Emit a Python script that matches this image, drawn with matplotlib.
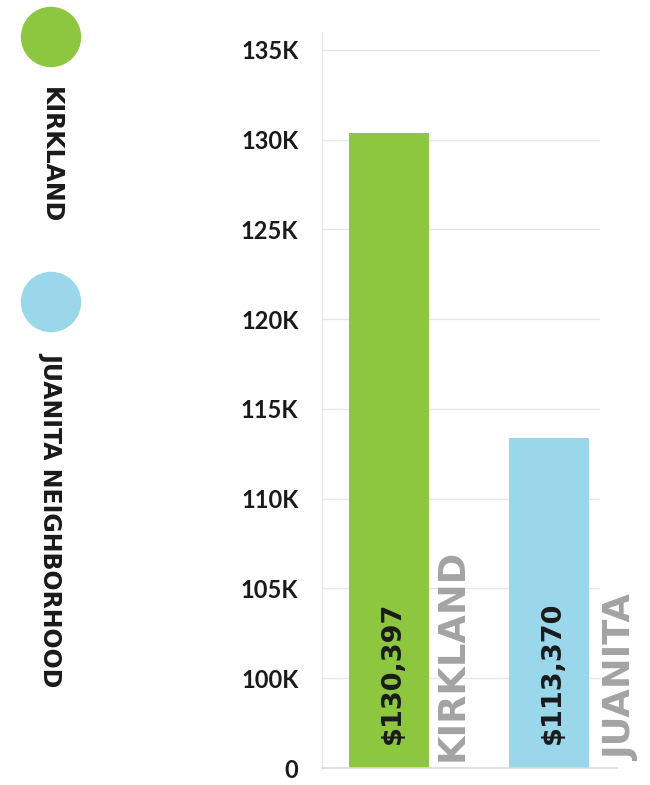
import matplotlib.pyplot as plt
from matplotlib.patches import Ellipse

# Data
categories = ['KIRKLAND', 'JUANITA']
legend_names = ['KIRKLAND', 'JUANITA NEIGHBORHOOD']
values = [130397, 113370]
value_labels = ['$130,397', '$113,370']
colors = ['#8DC63F', '#9AD7EA']
tick_values = [95000, 100000, 105000, 110000, 115000, 120000, 125000, 130000, 135000]
tick_labels = ['0', '100K', '105K', '110K', '115K', '120K', '125K', '130K', '135K']

TICK_FONT = 'Lato'
LABEL_FONT = 'DejaVu Sans'
TEXT_COLOR = '#1a1a1a'
GRID_COLOR = '#E6E6E6'

fig = plt.figure(figsize=(6.5, 7.85), dpi=100)
ax = fig.add_axes([322 / 650, 17 / 785, 278 / 650, 736 / 785])

x = list(range(len(categories)))
ax.bar(x, values, width=0.5, color=colors, zorder=2)
ax.set_xlim(-0.42, 1.316)
ax.set_ylim(95000, 136000)

# gridlines (no line at the baseline; drawn separately below)
for t in tick_values[1:]:
    ax.axhline(t, color=GRID_COLOR, lw=1, zorder=1)
ax.axhline(tick_values[0], xmax=1.06, color='#DADADA', lw=1.2, zorder=3, clip_on=False)

for side in ['top', 'right', 'bottom']:
    ax.spines[side].set_visible(False)
ax.spines['left'].set_color(GRID_COLOR)
ax.spines['left'].set_linewidth(1)

ax.set_xticks([])
ax.set_yticks(tick_values)
ax.set_yticklabels(tick_labels, fontfamily=TICK_FONT, fontweight='bold',
                   fontsize=17, color=TEXT_COLOR)
ax.tick_params(axis='y', length=0, pad=17)

# value labels inside bars and gray category labels beside bars
offsets = [0.39, 0.45]
for i, (v, lab, cat) in enumerate(zip(values, value_labels, categories)):
    ax.annotate(lab, xy=(x[i] + 0.02, tick_values[0]), xytext=(0, 17),
                textcoords='offset points', rotation=90, ha='center', va='bottom',
                fontfamily=LABEL_FONT, fontweight='bold', fontsize=19.5, color=TEXT_COLOR,
                zorder=4)
    ax.annotate(cat, xy=(x[i] + offsets[i], tick_values[0]), xytext=(0, 5),
                textcoords='offset points', rotation=90, ha='center', va='bottom',
                fontfamily=LABEL_FONT, fontweight='bold', fontsize=26.5, color='#A3A3A3',
                annotation_clip=False, zorder=4)

# custom vertical legend on the left
legend_y = [37, 302]
for name, col, cy in zip(legend_names, colors, legend_y):
    fig.add_artist(Ellipse((51 / 650, 1 - cy / 785), 59 / 650, 59 / 785,
                           transform=fig.transFigure, color=col))
    fig.text(51 / 650, 1 - (cy + 50) / 785, name, rotation=-90, ha='center', va='top',
             fontfamily=LABEL_FONT, fontweight='bold', fontsize=17, color=TEXT_COLOR)

fig.savefig('out.png', dpi=100)
